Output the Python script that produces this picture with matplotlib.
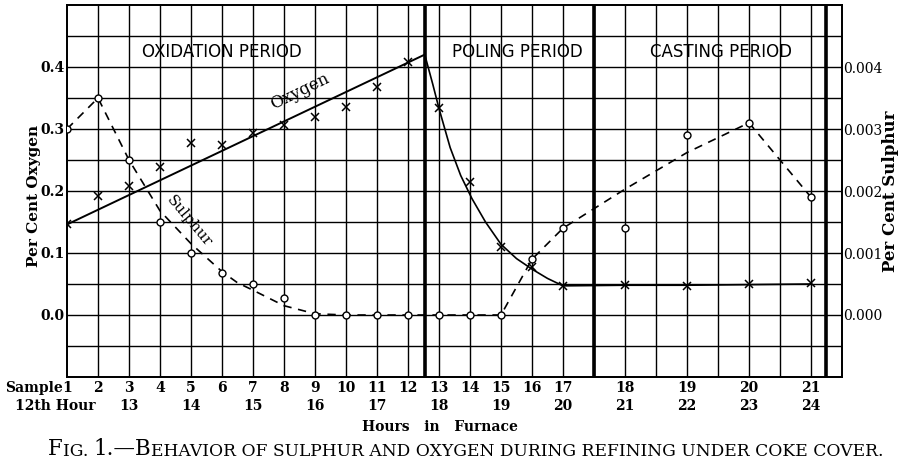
import matplotlib
matplotlib.use("Agg")
import matplotlib.pyplot as plt
import numpy as np
from matplotlib.transforms import blended_transform_factory, offset_copy

# x positions are hours in furnace; samples 1-17 every half hour, then hourly
sample_no = list(range(1, 22))
sample_hour = [12, 12.5, 13, 13.5, 14, 14.5, 15, 15.5, 16, 16.5, 17, 17.5,
               18, 18.5, 19, 19.5, 20, 21, 22, 23, 24]
hour_labels = [13, 14, 15, 16, 17, 18, 19, 20, 21, 22, 23, 24]

# per cent oxygen (left axis) and per cent sulphur (right axis)
oxygen = [0.146, 0.192, 0.208, 0.238, 0.278, 0.275, 0.294, 0.306, 0.320, 0.336,
          0.367, 0.408, 0.334, 0.214, 0.110, 0.077, 0.046, 0.048, 0.046, 0.050, 0.051]
sulphur = [0.0030, 0.0035, 0.0025, 0.0015, 0.0010, 0.00068, 0.0005, 0.00028,
           0.0, 0.0, 0.0, 0.0, 0.0, 0.0, 0.0, 0.0009, 0.0014, 0.0014,
           0.0029, 0.0031, 0.0019]

# hand-drawn curves
oxy_line_x = [12, 17.77]
oxy_line_y = [0.146, 0.420]
oxy_curve_x = [17.77, 17.9, 18.0, 18.18, 18.35, 18.53, 18.75, 19.0, 19.25,
               19.5, 19.75, 20.0, 21, 22, 23, 24]
oxy_curve_y = [0.420, 0.372, 0.333, 0.270, 0.225, 0.188, 0.150, 0.114, 0.091,
               0.074, 0.059, 0.047, 0.048, 0.048, 0.049, 0.050]
sul_curve_x = [12, 12.5, 13, 13.5, 14, 14.5, 14.75, 15, 15.5, 16, 16.5, 19,
               19.5, 20, 21, 22, 23, 24]
sul_curve_y = [0.0030, 0.0035, 0.0025, 0.00168, 0.00115, 0.0007, 0.00052,
               0.0004, 0.00015, 0.00002, 0.0, 0.0, 0.0009, 0.0014, 0.00203,
               0.00262, 0.0031, 0.0019]

period_names = ["OXIDATION PERIOD", "POLING PERIOD", "CASTING PERIOD"]
period_x = [14.5, 19.27, 22.55]
period_bounds = [17.77, 20.5, 24.25]

serif = "DejaVu Serif"

fig = plt.figure(figsize=(9.03, 4.63), dpi=100)
ax = fig.add_axes([67 / 903, 1 - 377 / 463, (842 - 67) / 903, (377 - 5) / 463])
ax.set_xlim(12, 24.5)
ax.set_ylim(-0.1, 0.5)

# grid paper
for gx in np.arange(12.5, 24.5, 0.5):
    ax.axvline(gx, color="black", lw=1.0, zorder=1)
for gy in np.arange(-0.05, 0.5, 0.05):
    ax.axhline(gy, color="black", lw=1.0, zorder=1)
for b in period_bounds:
    ax.axvline(b, color="black", lw=2.6, zorder=2)
for s in ax.spines.values():
    s.set_linewidth(1.3)

# oxygen
ax.plot(oxy_line_x, oxy_line_y, color="black", lw=1.4, zorder=3)
ax.plot(oxy_curve_x, oxy_curve_y, color="black", lw=1.2, zorder=3)
ax.plot(sample_hour, oxygen, linestyle="none", marker="x", ms=6, mew=1.1,
        color="black", zorder=4)

ax.set_yticks([0.0, 0.1, 0.2, 0.3, 0.4])
ax.set_yticklabels(["0.0", "0.1", "0.2", "0.3", "0.4"], family=serif,
                   fontweight="bold", fontsize=10)
ax.tick_params(axis="y", length=0, pad=2)
ax.set_xticks([])

# sulphur on its own scale
ax2 = ax.twinx()
ax2.set_ylim(-0.001, 0.005)
ax2.plot(sul_curve_x, sul_curve_y, color="black", lw=1.2, dashes=(5, 4), zorder=3)
ax2.plot(sample_hour, sulphur, linestyle="none", marker="o", ms=5, mew=1.0,
         mfc="white", mec="black", zorder=4)
ax2.set_yticks([0.0, 0.001, 0.002, 0.003, 0.004])
ax2.set_yticklabels(["0.000", "0.001", "0.002", "0.003", "0.004"],
                    family=serif, fontsize=10)
ax2.tick_params(axis="y", length=0, pad=1)
for s in ax2.spines.values():
    s.set_linewidth(1.3)

for name, px in zip(period_names, period_x):
    ax.text(px, 0.424, name, ha="center", va="center", fontsize=12,
            family="DejaVu Sans", zorder=5)

ax.text(15.76, 0.36, "Oxygen", rotation=26, rotation_mode="anchor",
        ha="center", va="center", family=serif, fontsize=12, zorder=5)
ax.text(13.97, 0.152, "Sulphur", rotation=-50, rotation_mode="anchor",
        ha="center", va="center", family=serif, fontsize=11, zorder=5)

# axis titles
fig.text(34 / 903, 1 - 196 / 463, "Per Cent Oxygen", rotation=90, ha="center",
         va="center", family=serif, fontweight="bold", fontsize=11)
fig.text(891 / 903, 1 - 191 / 463, "Per Cent Sulphur", rotation=90, ha="center",
         va="center", family=serif, fontweight="bold", fontsize=12)

# sample and hour rows below the axes
trans = blended_transform_factory(ax.transData, fig.transFigure)
for n, h in zip(sample_no, sample_hour):
    ax.text(h, 1 - 388 / 463, str(n), transform=trans, ha="center", va="center",
            family=serif, fontweight="bold", fontsize=10)
ax.text(12, 1 - 388 / 463, "Sample", transform=offset_copy(trans, fig=fig, x=-4, units="dots"),
        ha="right", va="center", family=serif, fontweight="bold", fontsize=10)
for h in hour_labels:
    ax.text(h, 1 - 406 / 463, str(h), transform=trans, ha="center", va="center",
            family=serif, fontweight="bold", fontsize=10)
fig.text(55 / 903, 1 - 406 / 463, "12th Hour", ha="center", va="center",
         family=serif, fontweight="bold", fontsize=10)
fig.text(440 / 903, 1 - 427 / 463, "Hours   in   Furnace", ha="center",
         va="center", family=serif, fontweight="bold", fontsize=10)

# caption in small caps
parts = [("F", 15.5), ("IG. ", 12.3), ("1.—B", 15.5),
         ("EHAVIOR OF SULPHUR AND OXYGEN DURING REFINING UNDER COKE COVER.", 12.3)]
prev = None
for txt, size in parts:
    if prev is None:
        prev = ax.annotate(txt, xy=(48, 463 - 460), xycoords="figure pixels",
                           ha="left", va="bottom", family=serif, fontsize=size,
                           annotation_clip=False)
    else:
        prev = ax.annotate(txt, xy=(1, 0), xycoords=prev, ha="left",
                           va="bottom", family=serif, fontsize=size,
                           annotation_clip=False)

fig.savefig("out.png", dpi=100)
